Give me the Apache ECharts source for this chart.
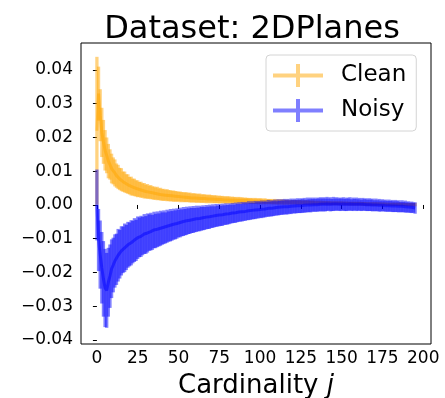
<!DOCTYPE html>
<html>
<head>
<meta charset="utf-8">
<title>Dataset: 2DPlanes</title>
<script src="https://cdn.jsdelivr.net/npm/echarts@6/dist/echarts.min.js"></script>
<style>html,body{margin:0;padding:0;background:#fff;}</style>
</head>
<body>
<div id="main" style="width:445px;height:398px;"></div>
<script>
// cardinality j = 0 .. 195
var cardinality = [];
for (var k = 0; k < 196; k++) cardinality.push(k);

var cleanMean = [
0.0220, 0.0330, 0.0266, 0.0215, 0.0187, 0.0162, 0.0147, 0.0130, 0.0120, 0.0108,
0.0101, 0.0095, 0.0087, 0.0083, 0.0077, 0.0075, 0.0069, 0.0068, 0.0063, 0.0062,
0.0057, 0.0056, 0.0053, 0.0052, 0.0049, 0.0048, 0.0046, 0.0045, 0.0043, 0.0042,
0.0040, 0.0040, 0.0038, 0.0038, 0.0036, 0.0035, 0.0034, 0.0034, 0.0032, 0.0032,
0.0030, 0.0030, 0.0029, 0.0029, 0.0028, 0.0027, 0.0027, 0.0026, 0.0026, 0.0025,
0.0025, 0.0024, 0.0024, 0.0023, 0.0023, 0.0023, 0.0022, 0.0022, 0.0021, 0.0021,
0.0021, 0.0020, 0.0020, 0.0020, 0.0019, 0.0019, 0.0019, 0.0018, 0.0018, 0.0018,
0.0018, 0.0017, 0.0017, 0.0017, 0.0016, 0.0016, 0.0016, 0.0016, 0.0015, 0.0015,
0.0015, 0.0015, 0.0014, 0.0014, 0.0014, 0.0014, 0.0013, 0.0014, 0.0013, 0.0013,
0.0013, 0.0012, 0.0013, 0.0012, 0.0012, 0.0012, 0.0011, 0.0012, 0.0011, 0.0011,
0.0011, 0.0011, 0.0010, 0.0011, 0.0010, 0.0010, 0.0010, 0.0010, 0.0009, 0.0010,
0.0009, 0.0009, 0.0009, 0.0009, 0.0009, 0.0008, 0.0009, 0.0008, 0.0008, 0.0008,
0.0008, 0.0008, 0.0008, 0.0007, 0.0008, 0.0007, 0.0007, 0.0007, 0.0007, 0.0007,
0.0007, 0.0006, 0.0007, 0.0006, 0.0006, 0.0006, 0.0006, 0.0006, 0.0006, 0.0006,
0.0006, 0.0005, 0.0006, 0.0005, 0.0005, 0.0005, 0.0005, 0.0005, 0.0005, 0.0005,
0.0005, 0.0005, 0.0004, 0.0005, 0.0004, 0.0004, 0.0004, 0.0004, 0.0004, 0.0004,
0.0004, 0.0004, 0.0004, 0.0003, 0.0004, 0.0003, 0.0003, 0.0003, 0.0003, 0.0003,
0.0003, 0.0003, 0.0003, 0.0003, 0.0003, 0.0002, 0.0003, 0.0002, 0.0002, 0.0002,
0.0002, 0.0002, 0.0002, 0.0002, 0.0002, 0.0002, 0.0002, 0.0001, 0.0002, 0.0001,
0.0001, 0.0001, 0.0001, 0.0001, 0.0001, 0.0001
];
var cleanErr = [
0.0219, 0.0080, 0.0077, 0.0073, 0.0065, 0.0060, 0.0053, 0.0051, 0.0045, 0.0044,
0.0040, 0.0040, 0.0036, 0.0036, 0.0033, 0.0034, 0.0030, 0.0031, 0.0028, 0.0029,
0.0026, 0.0028, 0.0025, 0.0026, 0.0024, 0.0025, 0.0022, 0.0024, 0.0021, 0.0023,
0.0020, 0.0022, 0.0019, 0.0021, 0.0019, 0.0020, 0.0018, 0.0020, 0.0017, 0.0019,
0.0017, 0.0018, 0.0016, 0.0018, 0.0016, 0.0017, 0.0015, 0.0017, 0.0015, 0.0016,
0.0014, 0.0016, 0.0014, 0.0015, 0.0014, 0.0015, 0.0013, 0.0015, 0.0013, 0.0014,
0.0013, 0.0014, 0.0012, 0.0014, 0.0012, 0.0013, 0.0012, 0.0013, 0.0011, 0.0013,
0.0011, 0.0012, 0.0011, 0.0012, 0.0010, 0.0012, 0.0010, 0.0011, 0.0010, 0.0011,
0.0010, 0.0011, 0.0009, 0.0011, 0.0009, 0.0010, 0.0009, 0.0010, 0.0009, 0.0010,
0.0008, 0.0010, 0.0008, 0.0009, 0.0008, 0.0009, 0.0008, 0.0009, 0.0008, 0.0009,
0.0008, 0.0009, 0.0007, 0.0009, 0.0007, 0.0008, 0.0007, 0.0008, 0.0007, 0.0008,
0.0007, 0.0008, 0.0007, 0.0008, 0.0007, 0.0008, 0.0006, 0.0008, 0.0006, 0.0007,
0.0006, 0.0007, 0.0006, 0.0007, 0.0006, 0.0007, 0.0006, 0.0007, 0.0006, 0.0007,
0.0006, 0.0007, 0.0006, 0.0007, 0.0005, 0.0007, 0.0005, 0.0007, 0.0005, 0.0006,
0.0005, 0.0006, 0.0005, 0.0006, 0.0005, 0.0006, 0.0005, 0.0006, 0.0005, 0.0006,
0.0005, 0.0006, 0.0005, 0.0006, 0.0005, 0.0006, 0.0005, 0.0006, 0.0005, 0.0006,
0.0005, 0.0006, 0.0005, 0.0006, 0.0005, 0.0006, 0.0004, 0.0006, 0.0004, 0.0006,
0.0004, 0.0006, 0.0004, 0.0005, 0.0004, 0.0005, 0.0004, 0.0005, 0.0004, 0.0005,
0.0004, 0.0005, 0.0004, 0.0005, 0.0004, 0.0005, 0.0004, 0.0005, 0.0004, 0.0005,
0.0004, 0.0005, 0.0004, 0.0005, 0.0004, 0.0005
];
var noisyMean = [
0.0000, -0.0104, -0.0147, -0.0186, -0.0219, -0.0246, -0.0253, -0.0229, -0.0211, -0.0189,
-0.0178, -0.0166, -0.0161, -0.0149, -0.0146, -0.0136, -0.0133, -0.0127, -0.0126, -0.0118,
-0.0117, -0.0112, -0.0110, -0.0104, -0.0105, -0.0097, -0.0096, -0.0093, -0.0092, -0.0086,
-0.0089, -0.0083, -0.0082, -0.0079, -0.0081, -0.0074, -0.0077, -0.0072, -0.0074, -0.0069,
-0.0070, -0.0066, -0.0068, -0.0063, -0.0064, -0.0060, -0.0062, -0.0057, -0.0059, -0.0055,
-0.0055, -0.0052, -0.0053, -0.0049, -0.0051, -0.0047, -0.0048, -0.0045, -0.0046, -0.0043,
-0.0045, -0.0041, -0.0043, -0.0040, -0.0041, -0.0038, -0.0040, -0.0036, -0.0038, -0.0035,
-0.0036, -0.0033, -0.0035, -0.0031, -0.0033, -0.0030, -0.0032, -0.0029, -0.0030, -0.0027,
-0.0029, -0.0026, -0.0027, -0.0024, -0.0026, -0.0023, -0.0024, -0.0021, -0.0023, -0.0020,
-0.0021, -0.0019, -0.0020, -0.0017, -0.0019, -0.0016, -0.0018, -0.0015, -0.0016, -0.0014,
-0.0015, -0.0013, -0.0014, -0.0012, -0.0013, -0.0010, -0.0012, -0.0010, -0.0011, -0.0008,
-0.0010, -0.0007, -0.0009, -0.0006, -0.0008, -0.0005, -0.0007, -0.0005, -0.0006, -0.0004,
-0.0005, -0.0003, -0.0005, -0.0002, -0.0004, -0.0002, -0.0003, -0.0001, -0.0003, 0.0000,
-0.0002, 0.0000, -0.0001, 0.0001, -0.0001, 0.0001, 0.0000, 0.0002, 0.0000, 0.0002,
0.0000, 0.0003, 0.0001, 0.0002, 0.0000, 0.0003, 0.0001, 0.0003, 0.0001, 0.0002,
0.0001, 0.0003, 0.0000, 0.0002, 0.0001, 0.0003, 0.0000, 0.0002, 0.0001, 0.0002,
0.0000, 0.0002, -0.0001, 0.0002, 0.0000, 0.0001, -0.0001, 0.0001, -0.0001, 0.0000,
-0.0002, 0.0000, -0.0002, -0.0001, -0.0003, -0.0001, -0.0003, -0.0002, -0.0004, -0.0002,
-0.0004, -0.0003, -0.0005, -0.0003, -0.0005, -0.0004, -0.0006, -0.0004, -0.0006, -0.0005,
-0.0007, -0.0006, -0.0008, -0.0007, -0.0008, -0.0009
];
var noisyErr = [
0.0105, 0.0092, 0.0101, 0.0106, 0.0112, 0.0116, 0.0111, 0.0102, 0.0094, 0.0087,
0.0081, 0.0079, 0.0076, 0.0078, 0.0072, 0.0073, 0.0069, 0.0072, 0.0067, 0.0068,
0.0065, 0.0067, 0.0063, 0.0065, 0.0061, 0.0063, 0.0059, 0.0061, 0.0057, 0.0059,
0.0056, 0.0058, 0.0054, 0.0056, 0.0052, 0.0054, 0.0051, 0.0053, 0.0049, 0.0052,
0.0048, 0.0050, 0.0046, 0.0049, 0.0045, 0.0048, 0.0044, 0.0046, 0.0043, 0.0045,
0.0041, 0.0044, 0.0040, 0.0043, 0.0039, 0.0042, 0.0038, 0.0041, 0.0037, 0.0040,
0.0036, 0.0039, 0.0035, 0.0038, 0.0035, 0.0037, 0.0034, 0.0036, 0.0033, 0.0036,
0.0032, 0.0035, 0.0031, 0.0034, 0.0031, 0.0033, 0.0030, 0.0033, 0.0029, 0.0032,
0.0029, 0.0031, 0.0028, 0.0030, 0.0027, 0.0030, 0.0027, 0.0029, 0.0026, 0.0029,
0.0026, 0.0028, 0.0025, 0.0028, 0.0025, 0.0027, 0.0024, 0.0027, 0.0024, 0.0026,
0.0023, 0.0026, 0.0023, 0.0025, 0.0022, 0.0025, 0.0022, 0.0024, 0.0022, 0.0024,
0.0021, 0.0024, 0.0021, 0.0023, 0.0021, 0.0023, 0.0021, 0.0023, 0.0020, 0.0023,
0.0020, 0.0022, 0.0020, 0.0022, 0.0020, 0.0022, 0.0020, 0.0022, 0.0019, 0.0022,
0.0019, 0.0022, 0.0019, 0.0021, 0.0019, 0.0021, 0.0019, 0.0021, 0.0019, 0.0021,
0.0019, 0.0021, 0.0018, 0.0021, 0.0018, 0.0021, 0.0018, 0.0020, 0.0018, 0.0020,
0.0018, 0.0020, 0.0018, 0.0020, 0.0018, 0.0020, 0.0017, 0.0020, 0.0017, 0.0020,
0.0017, 0.0019, 0.0017, 0.0019, 0.0017, 0.0019, 0.0017, 0.0019, 0.0017, 0.0019,
0.0016, 0.0019, 0.0016, 0.0019, 0.0016, 0.0018, 0.0016, 0.0018, 0.0016, 0.0018,
0.0016, 0.0018, 0.0016, 0.0018, 0.0016, 0.0018, 0.0015, 0.0018, 0.0015, 0.0018,
0.0015, 0.0017, 0.0015, 0.0017, 0.0015, 0.0017
];

var xTicks = [0, 25, 50, 75, 100, 125, 150, 175, 200];
var yTicks = [-0.04, -0.03, -0.02, -0.01, 0, 0.01, 0.02, 0.03, 0.04];

var FONT = 'DejaVu Sans';
var ORANGE = 'rgba(255,165,0,0.5)';
var BLUE = 'rgba(0,0,255,0.5)';
var plusIcon = 'path://M0,9.5H50V13.5H0Z M23,0H27V23H23Z';

function barData(mean, err) {
    return cardinality.map(function (j, i) { return [j, mean[i] - err[i], mean[i] + err[i]]; });
}
function lineData(mean) {
    return cardinality.map(function (j, i) { return [j, mean[i]]; });
}
function errBar(fill) {
    return function (params, api) {
        var top = api.coord([api.value(0), api.value(2)]);
        var bot = api.coord([api.value(0), api.value(1)]);
        return {
            type: 'rect',
            shape: { x: top[0] - 1.65, y: top[1], width: 3.3, height: bot[1] - top[1] },
            style: { fill: fill }
        };
    };
}
function fmt(v) {
    return (v < 0 ? '\u2212' : '') + Math.abs(v).toFixed(2);
}

var myChart = echarts.init(document.getElementById('main'), null, { renderer: 'canvas' });
var option = {
    animation: false,
    backgroundColor: '#fff',
    title: {
        text: 'Dataset: 2DPlanes',
        left: 247, top: 9, textAlign: 'center',
        textStyle: { fontFamily: FONT, fontSize: 32, fontWeight: 'normal', color: '#000' }
    },
    legend: {
        orient: 'vertical', left: 266, top: 55,
        padding: [9, 10, 9, 7], itemGap: 12, itemWidth: 50, itemHeight: 23,
        backgroundColor: '#fff', borderColor: '#d4d4d4', borderWidth: 1, borderRadius: 4,
        textStyle: { fontFamily: FONT, fontSize: 23, color: '#000', padding: [0, 0, 0, 13] },
        data: [
            { name: 'Clean', icon: plusIcon, itemStyle: { color: ORANGE, borderWidth: 0 } },
            { name: 'Noisy', icon: plusIcon, itemStyle: { color: BLUE, borderWidth: 0 } }
        ]
    },
    grid: {
        left: 81, right: 14, top: 43, bottom: 54,
        show: true, borderColor: '#000', borderWidth: 1,
        outerBoundsMode: 'none'
    },
    xAxis: {
        type: 'value', min: -9.75, max: 204.75,
        name: 'Cardinality {i|j}', nameLocation: 'middle', nameGap: 29,
        nameTextStyle: {
            fontFamily: FONT, fontSize: 26, color: '#000',
            rich: { i: { fontFamily: FONT, fontSize: 26, fontStyle: 'italic', color: '#000' } }
        },
        splitLine: { show: false },
        axisLine: { show: false },
        axisTick: { show: true, length: 4, customValues: xTicks, lineStyle: { color: '#000' } },
        axisLabel: { customValues: xTicks, margin: 6, fontFamily: FONT, fontSize: 17, color: '#000' }
    },
    yAxis: {
        type: 'value', min: -0.0412, max: 0.048,
        splitLine: { show: false },
        axisLine: { show: false },
        axisTick: { show: true, length: 4, customValues: yTicks, lineStyle: { color: '#000' } },
        axisLabel: { customValues: yTicks, margin: 8, fontFamily: FONT, fontSize: 17, color: '#000', formatter: fmt }
    },
    series: [
        {
            name: 'Clean', type: 'custom', renderItem: errBar(ORANGE),
            data: barData(cleanMean, cleanErr), encode: { x: 0, y: [1, 2] }, clip: true, z: 2
        },
        {
            name: 'Clean', type: 'line', data: lineData(cleanMean), symbol: 'none',
            lineStyle: { color: ORANGE, width: 3 }, itemStyle: { color: ORANGE }, z: 3
        },
        {
            name: 'Noisy', type: 'custom', renderItem: errBar(BLUE),
            data: barData(noisyMean, noisyErr), encode: { x: 0, y: [1, 2] }, clip: true, z: 4
        },
        {
            name: 'Noisy', type: 'line', data: lineData(noisyMean), symbol: 'none',
            lineStyle: { color: BLUE, width: 3 }, itemStyle: { color: BLUE }, z: 5
        }
    ]
};
myChart.setOption(option);
</script>
</body>
</html>
